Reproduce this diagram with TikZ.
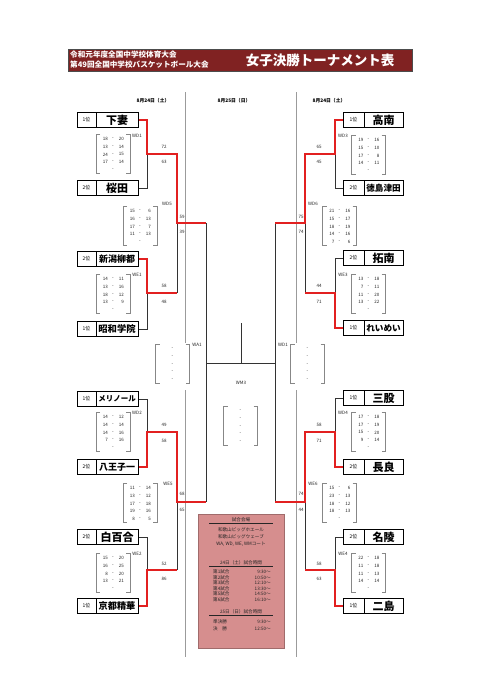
\documentclass[tikz,border=0pt]{standalone}
\usepackage{fontspec}
\setmainfont{Noto Sans CJK JP}
\definecolor{winred}{RGB}{226,32,32}
\definecolor{hdr}{RGB}{128,34,34}
\definecolor{pinkbg}{RGB}{214,142,142}
\definecolor{sepgray}{RGB}{155,155,155}
\definecolor{brkgray}{RGB}{135,135,135}
\newcommand\fs[1]{\fontsize{#1}{#1}\selectfont}
\tikzset{
  lose/.style={draw=black!80, line width=1pt},
  win/.style={draw=winred, line width=1.1pt},
  sepline/.style={draw=sepgray, line width=0.7pt},
  brk/.style={draw=brkgray, line width=0.6pt},
  small/.style={font=\fs{4.5}, inner sep=0pt, text=black!85},
  rankcell/.style={draw=black, line width=1pt, minimum width=19pt, minimum height=15pt, inner sep=0pt, font=\fs{5}},
  namecell/.style={draw=black, line width=1pt, minimum width=42pt, minimum height=15pt, inner sep=0pt, font=\bfseries\fs{#1}},
  namecell/.default=11,
  pinktxt/.style={font=\fs{4.6}, inner sep=0pt, text=black!85},
}
\newcommand\teamL[5]{%
  \node[rankcell] (#1r) at (86.5,#2) {#3};
  \node[namecell=#5] (#1) at (117,#2) {#4};}
\newcommand\teamR[5]{%
  \node[rankcell, minimum width=21pt] (#1r) at (353.5,#2) {#3};
  \node[namecell=#5, minimum width=39pt] (#1) at (383.5,#2) {#4};}
\newcommand\scorebx[4]{%
  \draw[brk] ({#1-13},#2) -- ({#1-17},#2) -- ({#1-17},{#2+39}) -- ({#1-13},{#2+39});
  \draw[brk] ({#1+13},#2) -- ({#1+17},#2) -- ({#1+17},{#2+39}) -- ({#1+13},{#2+39});
  \foreach \a/\b [count=\i] in {#3} {
    \node[small, anchor=east] (#4-a\i) at ({#1-5},{#2+5+7.7*(\i-1)}) {\a};
    \node[small] (#4-d\i) at ({#1},{#2+5+7.7*(\i-1)}) {-};
    \node[small, anchor=east] (#4-b\i) at ({#1+11},{#2+5+7.7*(\i-1)}) {\b};
  }}
\begin{document}
\begin{tikzpicture}[x=1pt,y=-1pt]
\useasboundingbox (0,0) rectangle (481,680);
\fill[white] (0,0) rectangle (481,680);

% header
\fill[hdr] (68,49) rectangle (412,71);
\draw[black!70, line width=0.5pt] (68,49) rectangle (412,71);
\node[anchor=west, text=white, font=\bfseries\fs{7.6}, inner sep=0pt] (h1) at (70,55) {令和元年度全国中学校体育大会};
\node[anchor=west, text=white, font=\bfseries\fs{7.6}, inner sep=0pt] (h2) at (70,64.5) {第49回全国中学校バスケットボール大会};
\node[text=white, font=\bfseries\fs{13.5}, inner sep=0pt] (title) at (320,60.5) {女子決勝トーナメント表};

% dates
\node[font=\bfseries\fs{4.8}, inner sep=0pt] (d1) at (153,101) {8月24日（土）};
\node[font=\bfseries\fs{4.8}, inner sep=0pt] (d2) at (234,101) {8月25日（日）};
\node[font=\bfseries\fs{4.8}, inner sep=0pt] (d3) at (329,101) {8月24日（土）};

% separators
\draw[sepline] (185,92) -- (185,343);
\draw[sepline] (185,390) -- (185,657);
\draw[sepline] (296,92) -- (296,343);
\draw[sepline] (296,390) -- (296,657);

% teams left
\teamL{t1}{120}{1位}{下妻}{11}
\teamL{t2}{188}{2位}{桜田}{11}
\teamL{t3}{259}{2位}{新潟柳都}{9}
\teamL{t4}{329}{1位}{昭和学院}{9.3}
\teamL{t5}{399}{1位}{メリノール}{7.5}
\teamL{t6}{467}{2位}{八王子一}{9}
\teamL{t7}{537}{2位}{白百合}{11}
\teamL{t8}{606}{1位}{京都精華}{9.2}
% teams right
\teamR{u1}{120}{1位}{高南}{11}
\teamR{u2}{188}{2位}{徳島津田}{8.6}
\teamR{u3}{258}{2位}{拓南}{11}
\teamR{u4}{328}{1位}{れいめい}{8.6}
\teamR{u5}{398}{1位}{三股}{11}
\teamR{u6}{467}{2位}{長良}{11}
\teamR{u7}{537}{2位}{名陵}{11}
\teamR{u8}{606}{1位}{二島}{11}

% coordinates left
\coordinate (j1) at (147,154); \coordinate (j1e) at (177,154);
\coordinate (j2) at (147,293); \coordinate (j2e) at (177,293);
\coordinate (j3) at (147,432); \coordinate (j3e) at (177,432);
\coordinate (j4) at (147,570); \coordinate (j4e) at (177,570);
\coordinate (k1) at (177,223); \coordinate (k1e) at (206,223);
\coordinate (k2) at (177,502); \coordinate (k2e) at (206,502);
% coordinates right
\coordinate (i1) at (335,154); \coordinate (i1e) at (305,154);
\coordinate (i2) at (335,293); \coordinate (i2e) at (305,293);
\coordinate (i3) at (335,432); \coordinate (i3e) at (305,432);
\coordinate (i4) at (335,570); \coordinate (i4e) at (305,570);
\coordinate (m1) at (305,223); \coordinate (m1e) at (275,223);
\coordinate (m2) at (305,502); \coordinate (m2e) at (275,502);
% centre
\coordinate (c1) at (206,363); \coordinate (c2) at (275,363);
\coordinate (cmid) at (241,363); \coordinate (ctop) at (241,323);

% losing lines
\draw[lose] (t2.east) -| (j1);
\draw[lose] (t4.east) -| (j2);
\draw[lose] (j2e) -- (k1);
\draw[lose] (t5.east) -| (j3);
\draw[lose] (t7.east) -| (j4);
\draw[lose] (j4e) -- (k2);
\draw[lose] (u2r.west) -| (i1);
\draw[lose] (u3r.west) -| (i2);
\draw[lose] (i2e) -- (m1);
\draw[lose] (u5r.west) -| (i3);
\draw[lose] (u7r.west) -| (i4);
\draw[lose] (i4e) -- (m2);
\draw[lose] (k1e) -- (k2e);
\draw[lose] (m1e) -- (m2e);
\draw[lose] (c1) -- (c2);
\draw[lose] (cmid) -- (ctop);
% winning lines
\draw[win] (t1.east) -| (j1) -- (j1e) -- (k1) -- (k1e);
\draw[win] (t3.east) -| (j2) -- (j2e);
\draw[win] (t6.east) -| (j3) -- (j3e) -- (k2) -- (k2e);
\draw[win] (t8.east) -| (j4) -- (j4e);
\draw[win] (u1r.west) -| (i1) -- (i1e) -- (m1) -- (m1e);
\draw[win] (u4r.west) -| (i2) -- (i2e);
\draw[win] (u6r.west) -| (i3) -- (i3e) -- (m2) -- (m2e);
\draw[win] (u8r.west) -| (i4) -- (i4e);

% score boxes
\scorebx{113}{134}{18/20,13/14,24/15,17/14,/}{sWD1}
\scorebx{113}{274}{14/11,13/16,18/12,13/9,/}{sWE1}
\scorebx{113}{412}{14/12,14/14,14/16,7/16,/}{sWD2}
\scorebx{113}{553}{15/20,16/25,8/20,13/21,/}{sWE2}
\scorebx{140}{206}{15/6,16/13,17/7,11/13,/}{sWD5}
\scorebx{140}{483}{11/14,13/12,17/18,19/16,8/5}{sWE5}
\scorebx{368.5}{135}{19/16,15/10,17/8,14/11,/}{sWD3}
\scorebx{368.5}{274}{13/18,7/11,11/20,13/22,/}{sWE3}
\scorebx{368.5}{412}{17/18,17/19,15/20,9/14,/}{sWD4}
\scorebx{368.5}{553}{22/18,11/18,11/13,14/14,/}{sWE4}
\scorebx{339.5}{206}{21/16,15/17,18/19,14/16,7/6}{sWD6}
\scorebx{339.5}{483}{15/6,23/13,18/12,18/13,/}{sWE6}
\scorebx{172.5}{344}{/,/,/,/,/}{sWA1}
\scorebx{307.5}{344}{/,/,/,/,/}{sWD1r}
\scorebx{240.5}{406}{/,/,/,/,/}{sWM3}

% game labels
\node[small] (lWD1) at (137,136) {WD1};
\node[small] (lWE1) at (137,275) {WE1};
\node[small] (lWD2) at (137,413) {WD2};
\node[small] (lWE2) at (137,554) {WE2};
\node[small] (lWD5) at (167,204) {WD5};
\node[small] (lWE5) at (168,484) {WE5};
\node[small] (lWD3) at (343,136) {WD3};
\node[small] (lWE3) at (343,275) {WE3};
\node[small] (lWD4) at (343,413) {WD4};
\node[small] (lWE4) at (343,554) {WE4};
\node[small] (lWD6) at (313,204) {WD6};
\node[small] (lWE6) at (313,484) {WE6};
\node[small] (lWA1) at (197,345) {WA1};
\node[small] (lWD1r) at (283,345) {WD1};
\node[small] (lWM3) at (241,383) {WM3};

% game totals
\node[small] (p1) at (164,147) {72};  \node[small] (p2) at (164,162) {63};
\node[small] (p3) at (164,286) {58};  \node[small] (p4) at (164,302) {48};
\node[small] (p5) at (164,425) {49};  \node[small] (p6) at (164,441) {58};
\node[small] (p7) at (164,564) {52};  \node[small] (p8) at (164,579) {86};
\node[small] (p9) at (182,217) {59};  \node[small] (p10) at (182,232) {39};
\node[small] (p11) at (182,494) {68}; \node[small] (p12) at (182,510) {65};
\node[small] (q1) at (319,147) {65};  \node[small] (q2) at (319,162) {45};
\node[small] (q3) at (319,286) {44};  \node[small] (q4) at (319,302) {71};
\node[small] (q5) at (319,425) {58};  \node[small] (q6) at (319,441) {71};
\node[small] (q7) at (319,564) {58};  \node[small] (q8) at (319,579) {63};
\node[small] (q9) at (301,217) {75};  \node[small] (q10) at (301,232) {74};
\node[small] (q11) at (301,494) {74}; \node[small] (q12) at (301,510) {44};

% info box
\fill[pinkbg] (198,514) rectangle (284,648);
\draw[pinkbg!75!black, line width=0.4pt] (198,514) rectangle (284,648);
\node[pinktxt] (v0) at (241,519.5) {試合会場};
\draw[black!85, line width=0.8pt] (209,523) -- (273,523);
\node[pinktxt] (v1) at (241,529.5) {和歌山ビッグホエール};
\node[pinktxt] (v2) at (241,537) {和歌山ビッグウェーブ};
\node[pinktxt] (v3) at (241,544.5) {WA, WD, WE, WMコート};
\node[pinktxt] (s0) at (241,563) {24日（土）試合時間};
\draw[black!85, line width=0.8pt] (209,566.5) -- (273,566.5);
\foreach \g/\t [count=\i] in {第1試合/9:30〜,第2試合/10:50〜,第3試合/12:10〜,第4試合/13:30〜,第5試合/14:50〜,第6試合/16:10〜} {
  \node[pinktxt, anchor=west] (g\i) at (213,{566.5+5.5*\i}) {\g};
  \node[pinktxt, anchor=east] (gt\i) at (271,{566.5+5.5*\i}) {\t};
}
\node[pinktxt] (s1) at (241,612) {25日（日）試合時間};
\draw[black!85, line width=0.8pt] (209,615.5) -- (273,615.5);
\node[pinktxt, anchor=west] (f1) at (213,622) {準決勝};
\node[pinktxt, anchor=east] (ft1) at (271,622) {9:30〜};
\node[pinktxt, anchor=west] (f2) at (213,629) {決　勝};
\node[pinktxt, anchor=east] (ft2) at (271,629) {12:50〜};
\end{tikzpicture}
\end{document}
